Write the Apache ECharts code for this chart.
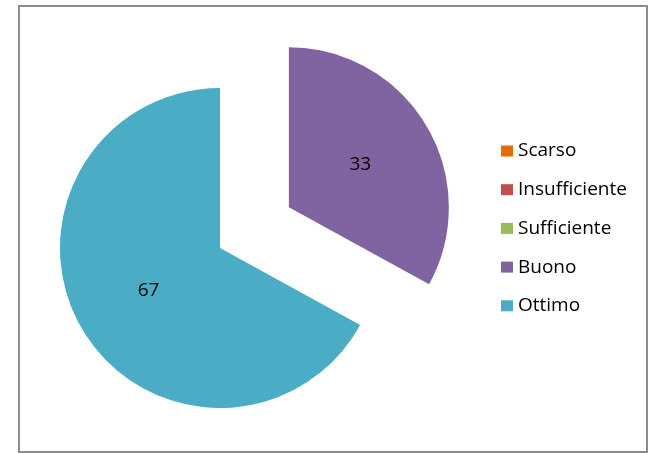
<!DOCTYPE html>
<html>
<head>
<meta charset="utf-8">
<script src="https://cdn.jsdelivr.net/npm/echarts@6/dist/echarts.min.js"></script>
<style>
html,body{margin:0;padding:0;background:#fff;}
#chart{width:650px;height:453px;}
</style>
</head>
<body>
<div id="chart"></div>
<script>
const categories = ['Scarso', 'Insufficiente', 'Sufficiente', 'Buono', 'Ottimo'];
const values = [0, 0, 0, 33, 67];
const colors = ['#E46C0A', '#C0504D', '#9BBB59', '#8064A2', '#4BACC6'];
const exploded = ['Buono'];

const chart = echarts.init(document.getElementById('chart'));
const data = categories.map((c, i) => ({
  name: c,
  value: values[i],
  selected: exploded.indexOf(c) >= 0,
  itemStyle: { color: colors[i] },
  label: { show: values[i] > 0 }
}));

chart.setOption({
  animation: false,
  color: colors,
  graphic: [{
    type: 'rect',
    shape: { x: 19, y: 6, width: 628, height: 446 },
    style: { fill: 'none', stroke: '#8c8c8c', lineWidth: 2 },
    silent: true
  }],
  legend: {
    orient: 'vertical',
    left: 501,
    top: 141,
    padding: 0,
    itemWidth: 12,
    itemHeight: 11,
    itemGap: 18.7,
    icon: 'rect',
    data: categories,
    textStyle: { fontFamily: 'Open Sans', fontSize: 19, lineHeight: 20, color: '#000' },
    selectedMode: false
  },
  series: [{
    type: 'pie',
    center: [220, 248],
    radius: 160,
    startAngle: 90,
    clockwise: true,
    selectedMode: 'multiple',
    selectedOffset: 80,
    label: {
      position: 'inside',
      formatter: '{c}',
      fontFamily: 'Open Sans',
      fontSize: 19,
      color: '#000'
    },
    labelLine: { show: false },
    emphasis: { disabled: true },
    select: { itemStyle: {} },
    data: data
  }]
});
</script>
</body>
</html>
